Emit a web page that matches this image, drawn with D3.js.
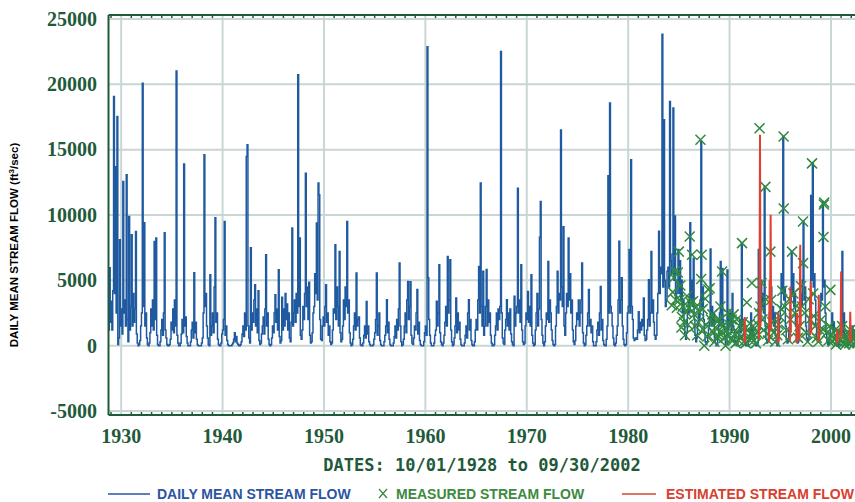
<!DOCTYPE html>
<html><head><meta charset="utf-8">
<script src="https://cdn.jsdelivr.net/npm/d3@7"></script>
<style>body{margin:0;background:#fff}</style>
</head><body><svg id="c" width="855" height="502"></svg>
<script>
// ---------- DATA (cfs), monthly values starting Oct 1928 ----------
const seriesStart = 1928.75;
const flow1920s = [1200, 5960, 1800,
  3400, 1200, 4200, 19060, 4000, 13700, 2500, 17530, 100, 600, 8100, 1500];
const flow1930s = [
  2800, 900, 12560, 2500, 3500, 1500, 13070, 2000, 300, 9890, 1200, 3000,
  8490, 1500, 4000, 1800, 2800, 8740, 900, 200, 0, 100, 400, 1500,
  2500, 20080, 3000, 9400, 1500, 2500, 600, 100, 0, 200, 1000, 2800,
  1500, 3500, 1200, 7980, 2000, 8250, 800, 100, 0, 0, 300, 1200,
  2000, 800, 2500, 8640, 1200, 600, 100, 0, 0, 100, 500, 1800,
  1200, 2800, 1000, 3500, 1500, 21020, 800, 200, 0, 0, 200, 900,
  2000, 1000, 13910, 1500, 2200, 700, 200, 0, 0, 0, 300, 1200,
  1800, 600, 5580, 1000, 1800, 500, 100, 0, 0, 0, 0, 200,
  600, 2500, 14600, 3000, 4000, 1500, 600, 100, 0, 5430, 800, 1500,
  2500, 1000, 4500, 9790, 1800, 2500, 500, 100, 0, 0, 200, 900];
const flow1940s = [
  1200, 2000, 9500, 800, 1500, 400, 100, 0, 0, 0, 0, 100,
  200, 500, 1000, 300, 700, 200, 100, 0, 0, 100, 300, 900,
  1500, 700, 2500, 1200, 14470, 15370, 1500, 600, 200, 7490, 1200, 2500,
  1800, 3500, 4660, 1500, 2800, 1000, 4200, 400, 100, 200, 900, 1500,
  2200, 900, 2800, 6960, 1500, 2500, 500, 100, 0, 100, 600, 1500,
  1000, 2500, 3900, 1800, 2800, 1200, 5810, 700, 200, 400, 3700, 1200,
  2800, 1500, 4000, 2000, 3200, 1200, 2500, 600, 300, 1800, 9000, 1500,
  2500, 3500, 1800, 4000, 2500, 20720, 3000, 8250, 800, 500, 1200, 3000,
  2000, 4000, 13200, 3000, 4500, 2000, 4860, 800, 200, 300, 1000, 2500,
  3000, 5500, 4000, 9380, 3500, 12440, 11540, 2000, 500, 400, 1500, 2200];
const flow1950s = [
  1500, 3000, 4660, 1800, 2500, 800, 1500, 300, 100, 200, 1200, 2800,
  2500, 7720, 2000, 4500, 3000, 1500, 7210, 1000, 300, 500, 1500, 3500,
  2000, 4500, 3000, 9500, 2500, 3500, 1000, 200, 0, 100, 500, 1500,
  2500, 1200, 5560, 1500, 2000, 2200, 600, 100, 0, 0, 200, 800,
  1500, 600, 3390, 900, 1500, 300, 100, 0, 0, 0, 100, 500,
  1000, 2000, 5560, 800, 1500, 2500, 400, 100, 0, 0, 0, 300,
  800, 1500, 3520, 1000, 1800, 500, 100, 0, 0, 0, 200, 700,
  1500, 600, 2000, 1200, 2800, 6320, 1500, 300, 0, 100, 500, 1500,
  2500, 1000, 3500, 4920, 2000, 3000, 4900, 800, 200, 100, 600, 1500,
  1200, 2500, 4300, 900, 1800, 400, 100, 0, 0, 0, 300, 1000];
const flow1960s = [
  1500, 800, 22880, 5200, 2000, 800, 200, 0, 0, 0, 200, 800,
  1200, 3400, 1500, 2500, 6190, 1000, 300, 100, 0, 200, 800, 1800,
  3000, 1500, 6830, 2500, 3500, 6580, 1200, 300, 0, 100, 600, 1500,
  3650, 1000, 2500, 1200, 1800, 500, 100, 0, 0, 0, 200, 800,
  1500, 600, 2500, 3520, 1200, 2000, 400, 100, 0, 0, 300, 1200,
  2000, 1200, 3500, 6060, 2500, 12440, 3000, 1500, 5700, 800, 1500, 3000,
  5830, 1500, 3500, 1800, 2500, 800, 200, 0, 0, 100, 800, 1500,
  2500, 1200, 2800, 2000, 3000, 22500, 2500, 600, 200, 100, 1200, 2000,
  3520, 1500, 2500, 1200, 2800, 900, 300, 100, 0, 3780, 1500, 2500,
  3000, 12050, 2500, 3500, 1800, 6190, 1200, 300, 100, 200, 1500, 2500];
const flow1970s = [
  2000, 4140, 1800, 3000, 1500, 5430, 800, 200, 0, 100, 1200, 2500,
  4000, 1500, 2800, 8300, 11030, 2000, 800, 200, 0, 300, 1500, 2500,
  2000, 6450, 1800, 3500, 2500, 1200, 400, 100, 0, 100, 1500, 3000,
  5690, 2500, 4000, 3500, 16510, 4500, 3000, 9100, 1500, 800, 2500, 4000,
  3000, 8250, 3500, 5500, 2500, 3500, 1200, 300, 100, 400, 1500, 2500,
  2000, 3500, 1500, 2500, 3500, 6320, 1000, 200, 0, 100, 800, 1500,
  2500, 4300, 1500, 2000, 1000, 1500, 300, 0, 0, 0, 300, 1200,
  1800, 800, 2500, 4530, 1200, 2000, 400, 100, 0, 0, 500, 1500,
  13000, 2500, 18560, 3000, 2500, 1500, 600, 100, 0, 200, 800, 1500,
  3500, 8000, 2500, 3500, 5200, 1500, 500, 100, 0, 100, 1000, 2500];
const flow1980s = [
  3000, 7370, 2500, 14220, 3000, 2000, 600, 400, 500, 600, 500, 1200,
  2600, 1000, 1800, 1200, 2000, 1500, 3650, 800, 400, 500, 1200, 2000,
  5050, 1500, 2500, 7210, 2500, 3500, 1800, 800, 500, 800, 2500, 4000,
  8760, 4000, 6000, 5500, 23830, 4500, 17280, 5000, 3000, 3500, 5700, 6000,
  4500, 18680, 6500, 5500, 7000, 18180, 5000, 9920, 3500, 4000, 5000, 7370,
  4000, 6500, 3500, 5000, 2500, 3500, 1500, 800, 500, 1000, 2500, 3500,
  2500, 9400, 3500, 5000, 3000, 6700, 2000, 800, 300, 600, 1500, 2500,
  2000, 3500, 15620, 3000, 4500, 2000, 1000, 300, 100, 300, 800, 1500,
  2000, 7400, 1500, 3000, 1500, 2500, 600, 200, 0, 100, 500, 1500,
  2500, 6450, 1500, 5900, 2000, 1500, 500, 100, 100, 5800, 1200, 2500];
const flow1990s = [
  1500, 2500, 1000, 4000, 1500, 1200, 400, 100, 0, 100, 500, 1200,
  2000, 1000, 7850, 1500, 2000, 800, 200, 0, 0, 100, 300, 800,
  1200, 2500, 800, 1500, 1000, 500, 200, 0, 0, 200, 7370, 1500,
  2000, 5000, 3000, 4000, 2500, 12180, 1500, 500, 200, 300, 1500, 2500,
  2500, 4500, 2000, 3000, 1500, 2500, 800, 200, 0, 100, 800, 2000,
  3000, 5500, 4000, 16000, 3500, 4500, 1500, 500, 200, 300, 1200, 2500,
  3500, 7210, 4000, 5500, 3000, 4000, 1500, 500, 200, 300, 1500, 3000,
  4000, 3000, 5000, 9500, 3500, 4500, 1500, 600, 300, 500, 2000, 3500,
  11500, 5000, 13970, 4500, 5500, 3500, 1500, 600, 300, 500, 1500, 3000,
  4000, 3500, 11030, 4500, 5000, 2500, 1000, 300, 100, 200, 800, 1500];
const flow2000s = [
  1500, 2500, 1200, 1800, 800, 600, 200, 0, 0, 100, 300, 800,
  1200, 7210, 1000, 2500, 800, 500, 200, 0, 0, 100, 300, 600,
  800, 1500, 600, 1200, 400, 300, 100, 0, 0];

const measuredDates = [1984.3,1984.4,1984.5,1984.6,1984.7,1984.8,1984.9,1985.0,1985.05,1985.15,1985.25,1985.3,1985.4,1985.5,1985.6,1985.7,1985.8,1985.9,1986.0,1986.07,1986.15,1986.3,1986.4,1986.5,1986.6,1986.7,1986.8,1986.9,1987.0,1987.13,1987.2,1987.25,1987.35,1987.45,1987.5,1987.6,1987.7,1987.8,1987.9,1988.04,1988.15,1988.3,1988.4,1988.5,1988.6,1988.7,1988.8,1988.9,1989.0,1989.1,1989.15,1989.26,1989.35,1989.45,1989.6,1989.7,1989.8,1989.9,1990.0,1990.1,1990.2,1990.3,1990.4,1990.5,1990.6,1990.7,1990.8,1990.9,1991.0,1991.1,1991.23,1991.3,1991.4,1991.5,1991.6,1991.7,1991.8,1991.9,1992.0,1992.1,1992.2,1992.3,1992.4,1992.5,1992.6,1992.7,1992.8,1992.9,1992.96,1993.05,1993.15,1993.25,1993.35,1993.53,1993.6,1993.7,1993.8,1993.9,1994.02,1994.1,1994.2,1994.35,1994.5,1994.7,1994.85,1995.0,1995.1,1995.2,1995.33,1995.34,1995.45,1995.6,1995.75,1995.9,1996.0,1996.16,1996.3,1996.45,1996.6,1996.75,1996.9,1997.05,1997.15,1997.24,1997.25,1997.4,1997.55,1997.7,1997.8,1997.95,1998.13,1998.25,1998.3,1998.45,1998.6,1998.75,1998.9,1999.05,1999.2,1999.26,1999.3,1999.33,1999.45,1999.6,1999.75,1999.85,1999.94,2000.05,2000.15,2000.3,2000.4,2000.5,2000.6,2000.7,2000.8,2000.9,2001.0,2001.1,2001.2,2001.3,2001.4,2001.5,2001.6,2001.7,2001.8,2001.9,2002.0,2002.1,2002.2,2002.3,2002.4,2002.5,2002.6];
const measuredFlows = [3100,4100,5200,5700,3500,2900,5600,7200,3500,4600,1400,2200,3000,1800,800,2600,3800,1600,2900,8360,3300,6960,3400,2400,1500,3000,800,1800,2600,15750,5100,6960,2800,1200,0,3600,1600,700,4300,4400,2000,2400,1000,300,1400,1900,600,760,2000,3000,1100,5680,1500,600,0,1200,2500,840,1600,500,2000,380,2400,900,200,2000,1000,400,1500,700,7850,1800,300,1000,200,3300,1200,500,1700,900,4800,1500,400,800,200,1000,1600,2500,16630,3000,4800,2000,1200,12150,3550,900,400,1500,7200,3500,1800,1000,300,800,1600,2200,2800,4200,16000,10500,3000,1200,500,3550,2000,7200,4000,2500,3050,600,1500,4550,3000,9500,6320,2500,1000,300,3550,2000,13950,4000,2280,1500,600,300,1200,2000,1250,8310,10800,10950,3000,1010,400,1500,4270,800,300,510,1200,100,700,300,1000,1010,500,1500,200,800,100,600,300,900,200,1200,400,800,100,600,300,900,200];

// estimated flow: null separates spikes
const estimatedDates = [1991.45,1991.5,1991.55,null,1992.9,1992.95,1993.0,1993.05,null,1993.9,1993.95,1994.0,1994.05,1994.1,null,1994.75,1994.8,1994.85,null,1995.95,1996.0,1996.05,null,1996.6,1996.65,1996.7,null,1996.9,1996.97,1997.02,null,1997.95,1998.0,1998.03,1998.06,null,1998.75,1998.8,1998.85,null,2000.55,2000.6,2000.65,null,2000.95,2001.0,2001.05,null,2001.85,2001.9,2001.95];
const estimatedFlows = [200,2200,300,null,500,3000,16130,1500,null,300,5000,2000,10020,1200,null,200,2500,300,null,300,4530,1000,null,200,2500,300,null,500,7720,1500,null,800,4900,4000,1000,null,300,3900,500,null,200,1200,300,null,500,5680,800,null,300,2600,400];

const yTicks = [25000, 20000, 15000, 10000, 5000, 0, -5000];
const xTicks = [1930, 1940, 1950, 1960, 1970, 1980, 1990, 2000];
const xTitle = "DATES: 10/01/1928 to 09/30/2002";
const legendLabels = ["DAILY MEAN STREAM FLOW", "MEASURED STREAM FLOW", "ESTIMATED STREAM FLOW"];

// ---------- CHART ----------
(function () {
const flows = [].concat(flow1920s, flow1930s, flow1940s, flow1950s, flow1960s, flow1970s, flow1980s, flow1990s, flow2000s);
const daily = flows.map((v, i) => [seriesStart + (i + 0.5) / 12, v]);
const measured = measuredDates.map((d, i) => [d, measuredFlows[i]]);
const estimated = estimatedDates.map((d, i) => [d, estimatedFlows[i]]);

const svg = d3.select("#c");
const pL = 108.5, pT = 15, pB = 415;
const x = d3.scaleLinear().domain([1928.75, 2002.75]).range([pL, pL + 74 * 10.14]);
const y = d3.scaleLinear().domain([-5300, 25300]).range([pB, pT]);
const green = "#1f5a3a";

svg.append("defs").append("clipPath").attr("id", "clip")
  .append("rect").attr("x", pL).attr("y", pT).attr("width", 900).attr("height", pB - pT);

// grid
svg.append("g").selectAll("line").data(yTicks).join("line")
  .attr("x1", pL).attr("x2", 855).attr("y1", d => y(d)).attr("y2", d => y(d))
  .attr("stroke", "#c9d6d6").attr("stroke-width", 2);
svg.append("g").selectAll("line").data(xTicks).join("line")
  .attr("x1", d => x(d)).attr("x2", d => x(d)).attr("y1", pT).attr("y2", pB)
  .attr("stroke", "#c9d6d6").attr("stroke-width", 2);

// data
const plot = svg.append("g").attr("clip-path", "url(#clip)");
const line = d3.line().x(d => x(d[0])).y(d => y(d[1])).defined(d => d[0] != null);
const stepLine = d3.line().x(d => x(d[0])).y(d => y(d[1])).curve(d3.curveStep);
plot.append("path").datum(daily).attr("d", stepLine)
  .attr("fill", "none").attr("stroke", "#1f5aa0").attr("stroke-width", 1.5).attr("stroke-linejoin", "miter");
plot.append("g").selectAll("path").data(measured).join("path")
  .attr("transform", d => `translate(${x(d[0])},${y(d[1])})`)
  .attr("d", "M-5,-5L5,5M-5,5L5,-5")
  .attr("stroke", "#2f8a3f").attr("stroke-width", 1.5).attr("fill", "none");
plot.append("path").datum(estimated).attr("d", line)
  .attr("fill", "none").attr("stroke", "#e0402f").attr("stroke-width", 2);

// frame
svg.append("line").attr("x1", pL).attr("x2", pL).attr("y1", pT).attr("y2", pB)
  .attr("stroke", green).attr("stroke-width", 2);
svg.append("line").attr("x1", pL).attr("x2", 855).attr("y1", pT).attr("y2", pT)
  .attr("stroke", green).attr("stroke-width", 2);
svg.append("line").attr("x1", pL).attr("x2", 855).attr("y1", pB).attr("y2", pB)
  .attr("stroke", green).attr("stroke-width", 2);
const minor = d3.range(1929, 2003).filter(d => d % 10 !== 0);
svg.append("g").selectAll("line").data(minor).join("line")
  .attr("x1", d => x(d)).attr("x2", d => x(d)).attr("y1", pT).attr("y2", pT + 3)
  .attr("stroke", green).attr("stroke-width", 1.5);
svg.append("g").selectAll("line").data(minor).join("line")
  .attr("x1", d => x(d)).attr("x2", d => x(d)).attr("y1", pB).attr("y2", pB - 3)
  .attr("stroke", green).attr("stroke-width", 1.5);

// tick labels
const tickFont = "'Liberation Serif', 'DejaVu Serif', serif";
svg.append("g").selectAll("text").data(yTicks).join("text")
  .attr("x", 97).attr("y", d => y(d)).attr("dy", "0.34em")
  .attr("text-anchor", "end").attr("font-family", tickFont).attr("font-weight", "bold")
  .attr("font-size", 20).attr("fill", green)
  .text(d => d < 0 ? "-" + Math.abs(d) : d);
svg.append("g").selectAll("text").data(xTicks).join("text")
  .attr("x", d => x(d)).attr("y", 443)
  .attr("text-anchor", "middle").attr("font-family", tickFont).attr("font-weight", "bold")
  .attr("font-size", 20).attr("fill", green).text(d => d);

// titles
svg.append("text").attr("x", 482).attr("y", 471).attr("text-anchor", "middle")
  .attr("font-family", "'DejaVu Sans Mono', monospace").attr("font-weight", "bold")
  .attr("font-size", 17).attr("fill", green).text(xTitle);
const yt = svg.append("text").attr("transform", "translate(18,245) rotate(-90)")
  .attr("text-anchor", "middle").attr("font-family", "'Liberation Sans', Arial, sans-serif")
  .attr("font-weight", "bold").attr("font-size", 11.5).attr("fill", "#000");
yt.append("tspan").text("DAILY MEAN STREAM FLOW (ft");
yt.append("tspan").attr("font-size", 8).attr("dy", -4).text("3");
yt.append("tspan").attr("dy", 4).text("/sec)");

// legend
const lf = "'Liberation Sans Narrow', 'Liberation Sans', Arial, sans-serif";
const lg = svg.append("g").attr("font-family", lf).attr("font-size", 14).attr("font-weight", "bold");
lg.append("line").attr("x1", 108).attr("x2", 150).attr("y1", 494).attr("y2", 494).attr("stroke", "#2b55a0").attr("stroke-width", 1.5);
lg.append("text").attr("x", 157).attr("y", 499).attr("fill", "#2b55a0").text(legendLabels[0]);
lg.append("path").attr("d", "M379,489L387,498M379,498L387,489").attr("stroke", "#3d8a40").attr("stroke-width", 1.3);
lg.append("text").attr("x", 396).attr("y", 499).attr("fill", "#3d8a40").text(legendLabels[1]);
lg.append("line").attr("x1", 622).attr("x2", 656).attr("y1", 494).attr("y2", 494).attr("stroke", "#d8402f").attr("stroke-width", 1.5);
lg.append("text").attr("x", 666).attr("y", 499).attr("fill", "#d8402f").text(legendLabels[2]);
})();
</script></body></html>
